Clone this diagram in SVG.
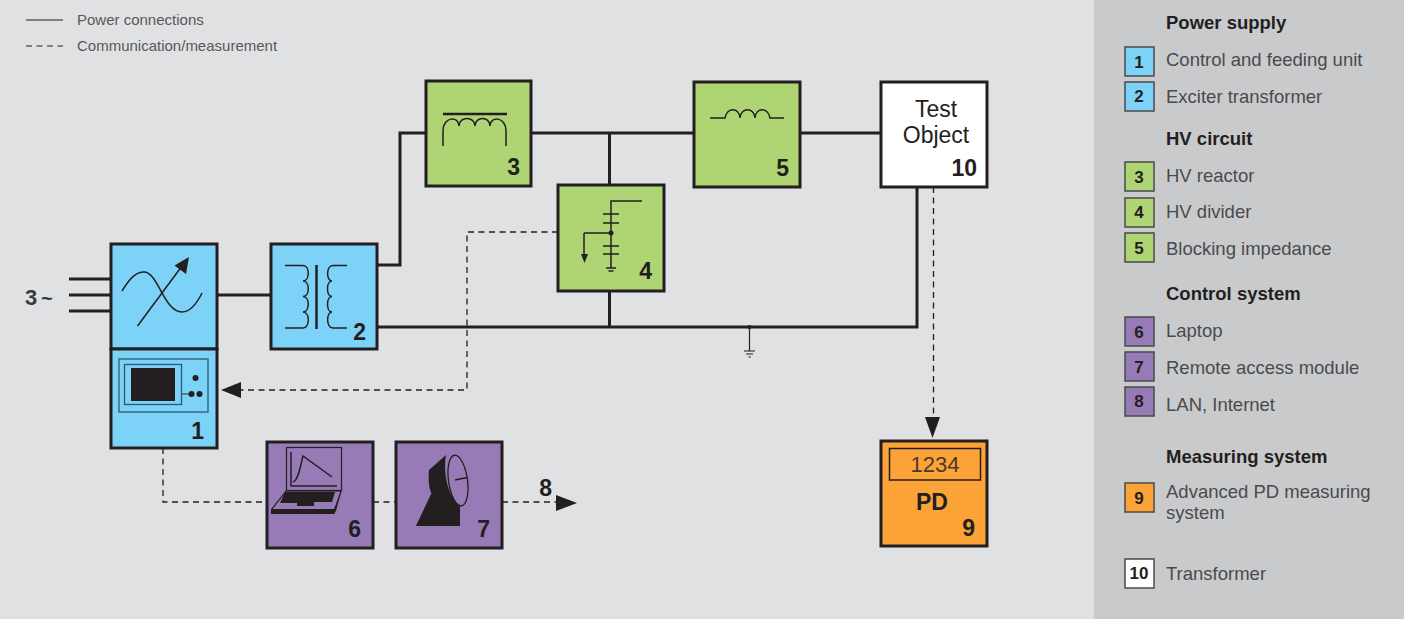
<svg xmlns="http://www.w3.org/2000/svg" width="1408" height="619" viewBox="0 0 1408 619">
<style>
text{font-family:"Liberation Sans",Arial,sans-serif}
.box{stroke:#231f20;stroke-width:3}
.blue{fill:#7dd3f7}.green{fill:#afd474}.purple{fill:#967bb6}.orange{fill:#fba336}.white{fill:#fff}
.num{font-size:23px;font-weight:700;fill:#231f20;text-anchor:end}
.pw{fill:none;stroke:#231f20;stroke-width:3}
.dash{fill:none;stroke:#231f20;stroke-width:1.3;stroke-dasharray:6 4.5}
.sym{fill:none;stroke:#231f20;stroke-width:1.5}
.ink{fill:#231f20;stroke:none}
.lg{font-size:18.5px;fill:#4a4a4c}
.hd{font-size:18.5px;font-weight:700;fill:#231f20}
.key{stroke:#4a4a4c;stroke-width:1.5}
.kn{font-size:17px;font-weight:700;fill:#231f20;text-anchor:middle}
.leg{font-size:15px;fill:#58585a}
</style>
<rect width="1408" height="619" fill="#e0e1e3"/>
<rect x="1094" width="310" height="619" fill="#c9cacc"/>
<rect x="1404" width="4" height="619" fill="#fff"/>

<g id="legend-lines">
<line x1="26" y1="20" x2="63" y2="20" stroke="#231f20" stroke-width="1.2"/>
<line x1="26" y1="46" x2="63" y2="46" stroke="#231f20" stroke-width="1.2" stroke-dasharray="6 4.5"/>
<text class="leg" x="77" y="25">Power connections</text>
<text class="leg" x="77" y="51">Communication/measurement</text>
</g>

<g id="connectors">
<path class="pw" d="M69 279H111M69 295H111M69 311H111"/>
<path class="pw" d="M217 295H271"/>
<path class="pw" d="M377 265H400V133H426"/>
<path class="pw" d="M531 133H694M800 133H881"/>
<path class="pw" d="M609.500 133V185"/>
<path class="pw" d="M377 327H917V187"/>
<path class="pw" d="M609.500 291V327"/>
<path d="M749.500 327V351M744 351H755M746 354H753M748.500 357H751" fill="none" stroke="#231f20" stroke-width="1.2"/>
<circle class="ink" cx="749.500" cy="327" r="2"/>
<path class="dash" d="M558 232H467V390H240"/>
<path class="ink" d="M221 390L241 382V398Z"/>
<path class="dash" d="M163 448V502H267M373 502H396M502 502H558"/>
<path class="ink" d="M556 495L577 503L556 511Z"/>
<path class="dash" d="M933.500 187V420"/>
<path class="ink" d="M925 417H940L932.500 438Z"/>
</g>

<g id="node-1">
<rect class="box blue" x="111" y="244" width="106" height="105"/>
<rect class="box blue" x="111" y="349" width="106" height="99"/>
<path class="sym" d="M122 291C130 278 136 272 144 272C158 272 164 312 182 312C191 312 197 303 202 293"/>
<path class="sym" d="M137.500 326L182 266"/>
<path class="ink" d="M189 257L186 274L174.500 265.500Z"/>
<rect x="119" y="359" width="89" height="53" fill="none" stroke="#2d5a6e" stroke-width="1.3"/>
<rect x="124.500" y="364.500" width="57" height="40" fill="none" stroke="#2d5a6e" stroke-width="1.3"/>
<rect class="ink" x="131" y="368" width="44" height="33"/>
<path d="M181 394H191" stroke="#2d5a6e" stroke-width="1.3"/>
<circle class="ink" cx="195.500" cy="378" r="3"/><circle class="ink" cx="191.500" cy="394" r="3"/><circle class="ink" cx="199.500" cy="394" r="3"/>
<text class="num" x="204" y="439">1</text>
</g>

<g id="node-2">
<rect class="box blue" x="271" y="244" width="106" height="105"/>
<path class="sym" d="M285 265.500H303C310 265.500 310 281 303 281C310 281 310 296.500 303 296.500C310 296.500 310 312 303 312C310 312 310 328 303 328H285"/>
<path class="sym" d="M347 265.500H333C326 265.500 326 281 332 281C326 281 326 296.500 332 296.500C326 296.500 326 312 332 312C326 312 326 328 333 328H347"/>
<path d="M316.500 265V329" stroke="#231f20" stroke-width="2.500"/>
<text class="num" x="366" y="340">2</text>
</g>

<g id="node-3">
<rect class="box green" x="426" y="81" width="105" height="105"/>
<path d="M443 114H507" stroke="#231f20" stroke-width="2.500"/>
<path class="sym" d="M443 146V131C443 116 459 116 459 126C459 116 475 116 475 126C475 116 490 116 490 126C490 116 506 116 506 131V146"/>
<text class="num" x="520" y="175">3</text>
</g>

<g id="node-4">
<rect class="box green" x="558" y="185" width="106" height="106"/>
<path class="sym" d="M642 201H611V268M603 214H619M603 223H619M603 246H619M603 254H619M606 268H616M608.500 271H613.500M584 233H611M584 233V256"/>
<circle class="ink" cx="611" cy="233" r="2.500"/>
<path class="ink" d="M581 254H588L584.500 263Z"/>
<text class="num" x="652" y="279">4</text>
</g>

<g id="node-5">
<rect class="box green" x="694" y="82" width="106" height="105"/>
<path class="sym" d="M710 118H725C727 107 739 107 740 118C741 107 754 107 755 118C756 107 768 107 770 118H784"/>
<text class="num" x="789" y="176">5</text>
</g>

<g id="node-10">
<rect class="box white" x="881" y="82" width="106" height="105"/>
<text x="936" y="117" font-size="23" fill="#231f20" text-anchor="middle">Test</text>
<text x="936" y="143" font-size="23" fill="#231f20" text-anchor="middle">Object</text>
<text class="num" x="977" y="176">10</text>
</g>

<g id="node-6">
<rect class="box purple" x="267" y="442" width="106" height="106"/>
<rect x="286.500" y="447.500" width="55" height="43" fill="none" stroke="#231f20" stroke-width="1.200"/>
<path class="sym" d="M291 452V486H337" stroke-width="1"/>
<path class="sym" d="M293 482C299 480 301 462 303 456L332 477" stroke-width="1"/>
<path d="M286 491H341L334 513H272L272 509Z" fill="none" stroke="#231f20" stroke-width="1.200"/>
<path class="ink" d="M285 492H335L332 502H314V506H297V503H280Z"/>
<path class="ink" d="M271 509H334L341 492L336 511L334 514H271Z"/>
<text class="num" x="361" y="537">6</text>
</g>

<g id="node-7">
<rect class="box purple" x="396" y="442" width="106" height="106"/>
<path class="ink" d="M416 526L432 495C429 488 428 482 429 470L446 455C443 470 447 497 460 505V505L460 526Z" transform="translate(0 0)"/>
<path class="ink" d="M431 494H449L460 526H416Z"/>
<ellipse cx="458" cy="480.500" rx="9.500" ry="25.500" transform="rotate(-8 458 480.500)" fill="#967bb6" stroke="#231f20" stroke-width="1.300"/>
<path class="sym" d="M455 480L467 477.500"/>
<text class="num" x="490" y="537">7</text>
</g>

<g id="node-8">
<text class="num" x="552" y="496">8</text>
</g>

<g id="node-9">
<rect class="box orange" x="881" y="441" width="106" height="105"/>
<rect x="889.500" y="448.500" width="91" height="31.500" fill="none" stroke="#231f20" stroke-width="1.500"/>
<text x="935" y="472" font-size="22" fill="#4a3a28" text-anchor="middle">1234</text>
<text x="932" y="510" font-size="23" font-weight="700" fill="#231f20" text-anchor="middle">PD</text>
<text class="num" x="975" y="536">9</text>
</g>

<g id="supply-label">
<text x="25" y="305" font-size="22" font-weight="700" fill="#3a3a3c">3</text>
<text x="41" y="305" font-size="20" font-weight="700" fill="#3a3a3c">~</text>
</g>

<g id="key">
<text class="hd" x="1166" y="29">Power supply</text>
<text class="hd" x="1166" y="145">HV circuit</text>
<text class="hd" x="1166" y="300">Control system</text>
<text class="hd" x="1166" y="463">Measuring system</text>
<rect class="key blue" x="1125" y="47" width="29" height="29"/><text class="kn" x="1139" y="68">1</text>
<text class="lg" x="1166" y="66">Control and feeding unit</text>
<rect class="key blue" x="1125" y="82" width="29" height="29"/><text class="kn" x="1139" y="102">2</text>
<text class="lg" x="1166" y="103">Exciter transformer</text>
<rect class="key green" x="1125" y="162" width="29" height="29"/><text class="kn" x="1139" y="183">3</text>
<text class="lg" x="1166" y="182">HV reactor</text>
<rect class="key green" x="1125" y="198" width="29" height="29"/><text class="kn" x="1139" y="218">4</text>
<text class="lg" x="1166" y="218">HV divider</text>
<rect class="key green" x="1125" y="233" width="29" height="29"/><text class="kn" x="1139" y="254">5</text>
<text class="lg" x="1166" y="255">Blocking impedance</text>
<rect class="key purple" x="1125" y="317" width="29" height="29"/><text class="kn" x="1139" y="338">6</text>
<text class="lg" x="1166" y="337">Laptop</text>
<rect class="key purple" x="1125" y="352" width="29" height="29"/><text class="kn" x="1139" y="373">7</text>
<text class="lg" x="1166" y="374">Remote access module</text>
<rect class="key purple" x="1125" y="387" width="29" height="29"/><text class="kn" x="1139" y="407">8</text>
<text class="lg" x="1166" y="411">LAN, Internet</text>
<rect class="key orange" x="1125" y="483" width="29" height="29"/><text class="kn" x="1139" y="504">9</text>
<text class="lg" x="1166" y="498">Advanced PD measuring</text>
<text class="lg" x="1166" y="519">system</text>
<rect class="key white" x="1125" y="559" width="29" height="29"/><text class="kn" x="1139" y="579">10</text>
<text class="lg" x="1166" y="580">Transformer</text>
</g>
</svg>
